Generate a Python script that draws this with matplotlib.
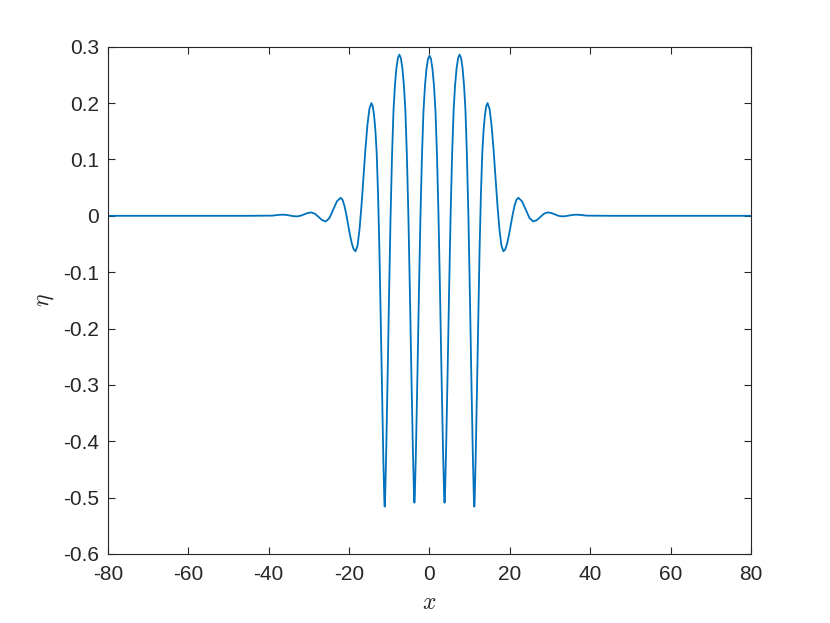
import matplotlib
matplotlib.use("Agg")
import matplotlib.pyplot as plt

# wave profile (x, eta)
x = [-80.0, -45.0,
     -39.125, -38.25, -37.375, -36.5, -35.625, -34.75, -33.875, -33.0,
     -32.1, -31.2, -30.3, -29.4, -28.5, -27.6, -26.7, -25.8,
     -24.875, -23.95, -23.025, -22.1,
     -21.638, -21.175, -20.713, -20.25, -19.788, -19.325, -18.863, -18.4,
     -17.906, -17.413, -16.919, -16.425, -15.931, -15.438, -14.944, -14.45,
     -14.12, -13.79, -13.46, -13.13, -12.8, -12.47, -12.14, -11.81, -11.48, -11.315, -11.2325, -11.15,
     -11.05875, -10.9675, -10.785, -10.42, -10.055, -9.69, -9.325, -8.96, -8.595, -8.23, -7.865, -7.5,
     -7.125, -6.75, -6.375, -6.0, -5.625, -5.25, -4.875, -4.5, -4.125, -3.9375, -3.84375, -3.75,
     -3.65625, -3.5625, -3.375, -3.0, -2.625, -2.25, -1.875, -1.5, -1.125, -0.75, -0.375,
     0.0,
     0.375, 0.75, 1.125, 1.5, 1.875, 2.25, 2.625, 3.0, 3.375, 3.5625, 3.65625,
     3.75, 3.84375, 3.9375, 4.125, 4.5, 4.875, 5.25, 5.625, 6.0, 6.375, 6.75, 7.125,
     7.5, 7.865, 8.23, 8.595, 8.96, 9.325, 9.69, 10.055, 10.42, 10.785, 10.9675, 11.05875,
     11.15, 11.2325, 11.315, 11.48, 11.81, 12.14, 12.47, 12.8, 13.13, 13.46, 13.79, 14.12,
     14.45, 14.944, 15.438, 15.931, 16.425, 16.919, 17.413, 17.906,
     18.4, 18.863, 19.325, 19.788, 20.25, 20.713, 21.175, 21.638,
     22.1, 23.025, 23.95, 24.875,
     25.8, 26.7, 27.6, 28.5, 29.4, 30.3, 31.2, 32.1,
     33.0, 33.875, 34.75, 35.625, 36.5, 37.375, 38.25, 39.125,
     45.0, 80.0]

eta = [0.0, 0.0,
       0.0003, 0.001, 0.0017, 0.002, 0.0016, 0.0005, -0.0006, -0.001,
       0.0, 0.0025, 0.005, 0.006, 0.0037, -0.002, -0.0077, -0.010,
       -0.0038, 0.011, 0.0258, 0.032,
       0.0284, 0.0181, 0.0027, -0.0155, -0.0337, -0.0491, -0.0594, -0.063,
       -0.053, -0.0245, 0.0181, 0.0685, 0.1189, 0.1615, 0.190, 0.200,
       0.1946, 0.1785, 0.1517, 0.1105, 0.0389, -0.0578, -0.1795, -0.3119, -0.4337, -0.4838, -0.5071, -0.516,
       -0.5060, -0.4799, -0.4238, -0.2874, -0.1391, -0.0027, 0.1056, 0.1858, 0.2319, 0.2619, 0.2800, 0.286,
       0.2800, 0.2622, 0.2323, 0.1866, 0.1071, -0.0002, -0.1354, -0.2824, -0.4176, -0.4732, -0.4991, -0.509,
       -0.4991, -0.4733, -0.4178, -0.2830, -0.1363, -0.0015, 0.1056, 0.1849, 0.2305, 0.2602, 0.2781,
       0.284,
       0.2781, 0.2602, 0.2305, 0.1849, 0.1056, -0.0015, -0.1363, -0.2830, -0.4178, -0.4733, -0.4991,
       -0.509, -0.4991, -0.4732, -0.4176, -0.2824, -0.1354, -0.0002, 0.1071, 0.1866, 0.2323, 0.2622, 0.2800,
       0.286, 0.2800, 0.2619, 0.2319, 0.1858, 0.1056, -0.0027, -0.1391, -0.2874, -0.4238, -0.4799, -0.5060,
       -0.516, -0.5071, -0.4838, -0.4337, -0.3119, -0.1795, -0.0578, 0.0389, 0.1105, 0.1517, 0.1785, 0.1946,
       0.200, 0.190, 0.1615, 0.1189, 0.0685, 0.0181, -0.0245, -0.053,
       -0.063, -0.0594, -0.0491, -0.0337, -0.0155, 0.0027, 0.0181, 0.0284,
       0.032, 0.0258, 0.011, -0.0038,
       -0.010, -0.0077, -0.002, 0.0037, 0.006, 0.005, 0.0025, 0.0,
       -0.001, -0.0006, 0.0005, 0.0016, 0.002, 0.0017, 0.001, 0.0003,
       0.0, 0.0]

xticks = [-80, -60, -40, -20, 0, 20, 40, 60, 80]
yticks = [-0.6, -0.5, -0.4, -0.3, -0.2, -0.1, 0, 0.1, 0.2, 0.3]
ytick_labels = ["-0.6", "-0.5", "-0.4", "-0.3", "-0.2", "-0.1", "0", "0.1", "0.2", "0.3"]

plt.rcParams["font.family"] = ["Liberation Sans", "DejaVu Sans"]
plt.rcParams["mathtext.fontset"] = "cm"

fig = plt.figure(figsize=(8.3, 6.23), dpi=100)
ax = fig.add_axes([0.1301, 0.1108, 0.7747, 0.8142])

ax.plot(x, eta, color="#0072BD", lw=1.3)

ax.set_xlim(-80, 80)
ax.set_ylim(-0.6, 0.3)
ax.set_xticks(xticks)
ax.set_xticklabels([str(v) for v in xticks])
ax.set_yticks(yticks)
ax.set_yticklabels(ytick_labels)

axcol = "#262626"
for s in ax.spines.values():
    s.set_color(axcol)
    s.set_linewidth(0.8)
ax.tick_params(direction="in", length=5, width=0.8, color=axcol,
               top=True, right=True, labelsize=15, labelcolor=axcol)
ax.tick_params(axis="x", pad=8)
ax.tick_params(axis="y", pad=6.5)

ax.set_xlabel(r"$x$", fontsize=17, color=axcol, labelpad=6)
ax.set_ylabel(r"$\eta$", fontsize=17, color=axcol, labelpad=5)

fig.savefig("out.png", dpi=100)
